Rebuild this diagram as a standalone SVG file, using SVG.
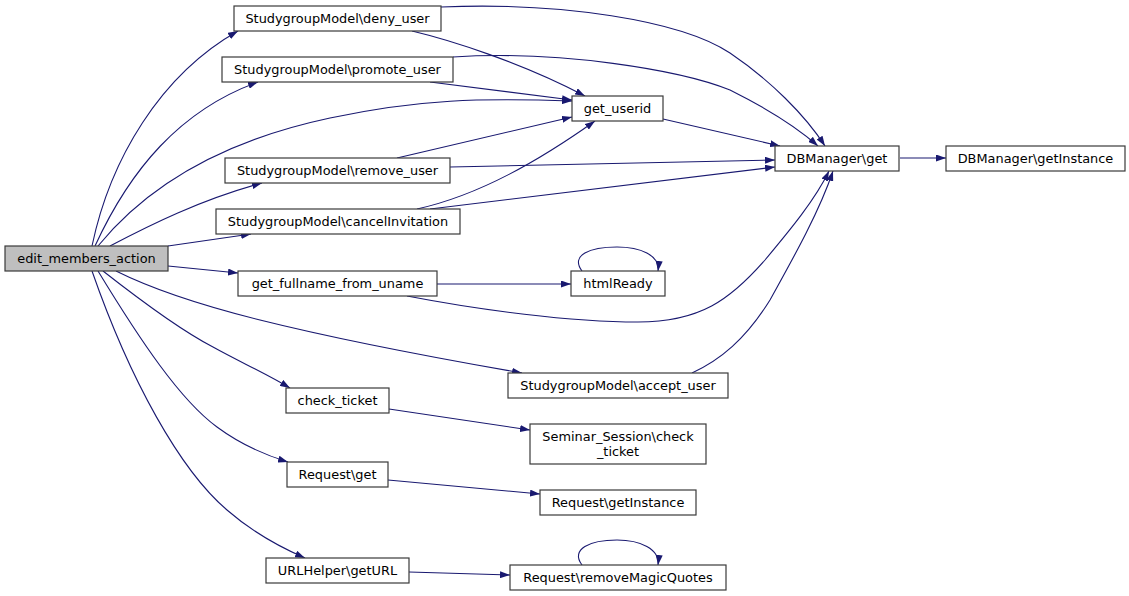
<svg xmlns="http://www.w3.org/2000/svg" width="1129" height="596" viewBox="0 0 1129 596">
<defs>
<marker id="ah" viewBox="0 0 10 7" refX="10" refY="3.5" markerWidth="10" markerHeight="7" markerUnits="userSpaceOnUse" orient="auto">
<path d="M0,0 L10,3.5 L0,7 Z" fill="#191970"/>
</marker>
</defs>
<style>
.n rect{fill:#ffffff;stroke:#3a3a3a;stroke-width:1.2}
.n text{font-family:"DejaVu Sans",sans-serif;font-size:12.9px;fill:#000;text-anchor:middle}
#edges path{fill:none;stroke:#191970;stroke-width:1.1;marker-end:url(#ah)}
</style>
<rect width="1129" height="596" fill="#ffffff"/>
<g id="edges">
<path d="M92,246 C110,160 160,75 238,31"/>
<path d="M95,246 C130,170 180,110 258,82"/>
<path d="M98,246 C160,170 250,135 330,118 C420,99 480,98 572,101"/>
<path d="M110,246 C150,225 200,200 262,183"/>
<path d="M168,246 L251,234"/>
<path d="M168,266 L238,273"/>
<path d="M116,271 C150,288 200,305 260,320 C340,340 430,357 522,373"/>
<path d="M103,271 C140,300 180,330 213,347 C240,362 265,373 290,388"/>
<path d="M98,271 C140,340 180,400 217,427 C240,444 265,455 288,462"/>
<path d="M92,271 C130,380 180,470 227,510 C250,530 275,545 305,558"/>
<path d="M412,31 C450,40 520,62 585,96"/>
<path d="M441,7 C560,2 680,20 730,53 C770,80 805,115 825,146"/>
<path d="M453,57 C560,50 680,70 730,90 C770,110 800,130 818,146"/>
<path d="M430,82 L572,100"/>
<path d="M397,158 L572,117"/>
<path d="M450,167 L775,160"/>
<path d="M417,209 C480,195 540,160 595,121"/>
<path d="M430,209 L775,167"/>
<path d="M663,119 L780,146"/>
<path d="M900,158 L946,158"/>
<path d="M437,284 L571,284"/>
<path d="M407,296 C480,310 570,322 638,322 C700,322 730,300 765,260 C790,230 815,200 829,171"/>
<path d="M692,373 C720,360 745,340 770,300 C795,255 820,210 833,171"/>
<path d="M582,271 C570,255 590,247 617,247 C640,247 660,255 658,271"/>
<path d="M389,409 L530,430"/>
<path d="M388,480 L540,494"/>
<path d="M409,572 L510,575"/>
<path d="M582,565 C570,549 590,540 617,540 C640,540 660,549 658,565"/>
</g>
<g id="edit_members_action" class="n"><rect x="5" y="246" width="163" height="25" style="fill:#bfbfbf"/><text x="86.5" y="263">edit_members_action</text></g>
<g id="deny_user" class="n"><rect x="234" y="6" width="207" height="25"/><text x="337.5" y="23">StudygroupModel\deny_user</text></g>
<g id="promote_user" class="n"><rect x="222" y="57" width="231" height="25"/><text x="337.5" y="74">StudygroupModel\promote_user</text></g>
<g id="get_userid" class="n"><rect x="572" y="96" width="91" height="25"/><text x="617.5" y="113">get_userid</text></g>
<g id="remove_user" class="n"><rect x="225" y="158" width="225" height="25"/><text x="337.5" y="175">StudygroupModel\remove_user</text></g>
<g id="cancelInvitation" class="n"><rect x="216" y="209" width="244" height="25"/><text x="338" y="226">StudygroupModel\cancelInvitation</text></g>
<g id="dbget" class="n"><rect x="775" y="146" width="124" height="25"/><text x="837" y="163">DBManager\get</text></g>
<g id="dbgetinstance" class="n"><rect x="946" y="146" width="179" height="25"/><text x="1035.5" y="163">DBManager\getInstance</text></g>
<g id="get_fullname_from_uname" class="n"><rect x="238" y="271" width="199" height="25"/><text x="337.5" y="288">get_fullname_from_uname</text></g>
<g id="htmlReady" class="n"><rect x="571" y="271" width="94" height="25"/><text x="618" y="288">htmlReady</text></g>
<g id="accept_user" class="n"><rect x="508" y="373" width="220" height="25"/><text x="618" y="390">StudygroupModel\accept_user</text></g>
<g id="check_ticket" class="n"><rect x="286" y="388" width="103" height="25"/><text x="337.5" y="405">check_ticket</text></g>
<g id="seminar_check_ticket" class="n"><rect x="530" y="424" width="176" height="40"/><text x="618" y="441">Seminar_Session\check</text><text x="618" y="456">_ticket</text></g>
<g id="request_get" class="n"><rect x="287" y="462" width="101" height="25"/><text x="337.5" y="479">Request\get</text></g>
<g id="request_getinstance" class="n"><rect x="540" y="490" width="156" height="25"/><text x="618" y="507">Request\getInstance</text></g>
<g id="urlhelper_geturl" class="n"><rect x="266" y="558" width="143" height="25"/><text x="337.5" y="575">URLHelper\getURL</text></g>
<g id="removemagicquotes" class="n"><rect x="510" y="565" width="216" height="25"/><text x="618" y="582">Request\removeMagicQuotes</text></g>
</svg>
